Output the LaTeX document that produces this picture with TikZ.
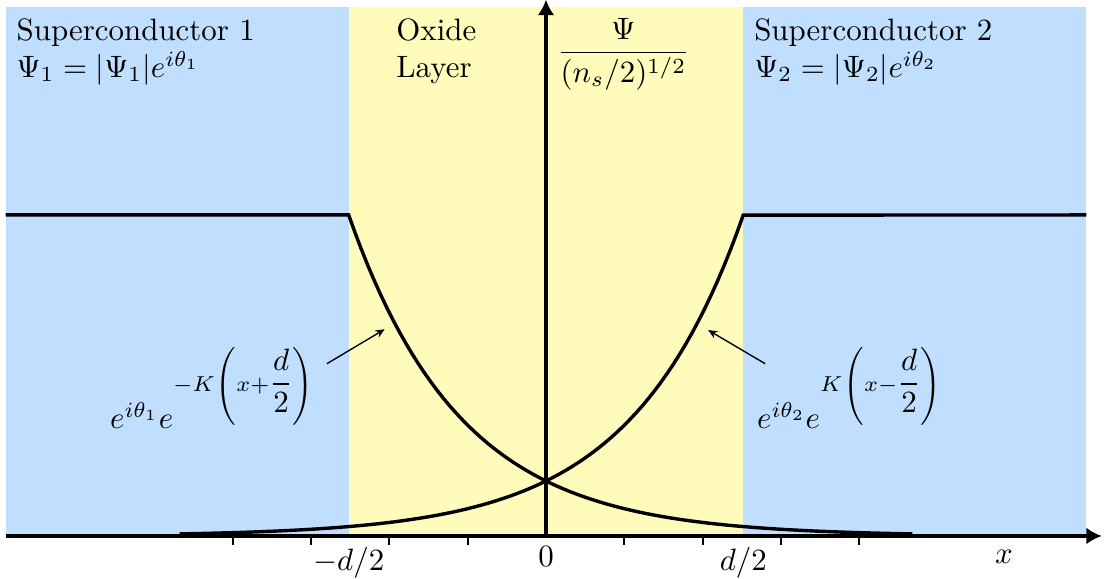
\documentclass[tikz,border=0pt]{standalone}
\usepackage{amsmath,amssymb}
\usepackage{xcolor}
\usepackage{tikz}
\usetikzlibrary{arrows.meta,positioning,calc}
\definecolor{scblue}{RGB}{192,223,255}
\definecolor{oxyellow}{RGB}{255,251,187}
\tikzset{
  scregion/.style={fill=scblue, draw=none},
  oxregion/.style={fill=oxyellow, draw=none},
  axisline/.style={-{Latex[length=5pt,width=5.4pt]}, line width=1.1pt},
  tickmark/.style={line width=0.6pt},
  wavecurve/.style={line width=1.1pt, line join=miter},
  pointer/.style={-{Stealth[length=3pt,width=2.6pt]}, line width=0.45pt},
  regionlabel/.style={align=left, anchor=north west},
  eqlabel/.style={inner sep=2pt}
}

\begin{document}
\begin{tikzpicture}[x=0.89cm, y=0.89cm]
  \useasboundingbox (-6.973,-0.549) rectangle (7.19,6.845);
  % regions
  \fill[scregion] (-6.9,0) rectangle (-2.52,6.75);
  \fill[oxregion] (-2.52,0) rectangle (2.52,6.75);
  \fill[scregion] (2.52,0) rectangle (6.9,6.75);
  \node[regionlabel] (sc1) at (-6.9,6.75) {Superconductor 1\\$\Psi_1=|\Psi_1|e^{i\theta_1}$};
  \node[regionlabel] (oxide) at (-2.05,6.75) {Oxide\\Layer};
  \node[regionlabel] (sc2) at (2.52,6.75) {Superconductor 2\\$\Psi_2=|\Psi_2|e^{i\theta_2}$};
  % wave functions
  \draw[wavecurve] (-6.9,4.1) -- (-2.52,4.1)
    -- plot[domain=-2.52:4.68, samples=90] (\x,{4.1*exp(-0.7*(\x+2.52))});
  \draw[wavecurve] plot[domain=-4.68:2.52, samples=90] (\x,{4.1*exp(0.7*(\x-2.52))})
    -- (6.9,4.1);
  % axes
  \coordinate (origin) at (0,0);
  \coordinate (xend) at (7.1,0);
  \coordinate (yend) at (0,6.85);
  \draw[axisline] (-6.9,0) -- (xend);
  \draw[axisline] (origin) -- (yend);
  \foreach \t in {-4,-3,-2,-1,1,2,3,4}
    \draw[tickmark] (\t,0) -- (\t,-0.12);
  \node[below] (tick0) at (origin) {$0$};
  \node[below] (tickl) at (-2.52,0) {$-d/2$};
  \node[below] (tickr) at (2.52,0) {$d/2$};
  \node (xlabel) at (5.85,-0.27) {$x$};
  \node[anchor=north west] (ylabel) at (0,6.75) {$\dfrac{\Psi}{(n_s/2)^{1/2}}$};
  % annotations
  \node[eqlabel] (lbl1) at (-4.25,1.89) {$e^{i\theta_1}e^{-K\left(x+\dfrac{d}{2}\right)}$};
  \node[eqlabel] (lbl2) at (3.89,1.89) {$e^{i\theta_2}e^{K\left(x-\dfrac{d}{2}\right)}$};
  \coordinate (tip1) at (-2.06,2.64);
  \coordinate (tip2) at (2.07,2.63);
  \draw[pointer] ([shift={(0.05,0.31)}]lbl1.east) -- (tip1);
  \draw[pointer] ([shift={(0.19,0.31)}]lbl2.west) -- (tip2);
\end{tikzpicture}
\end{document}
